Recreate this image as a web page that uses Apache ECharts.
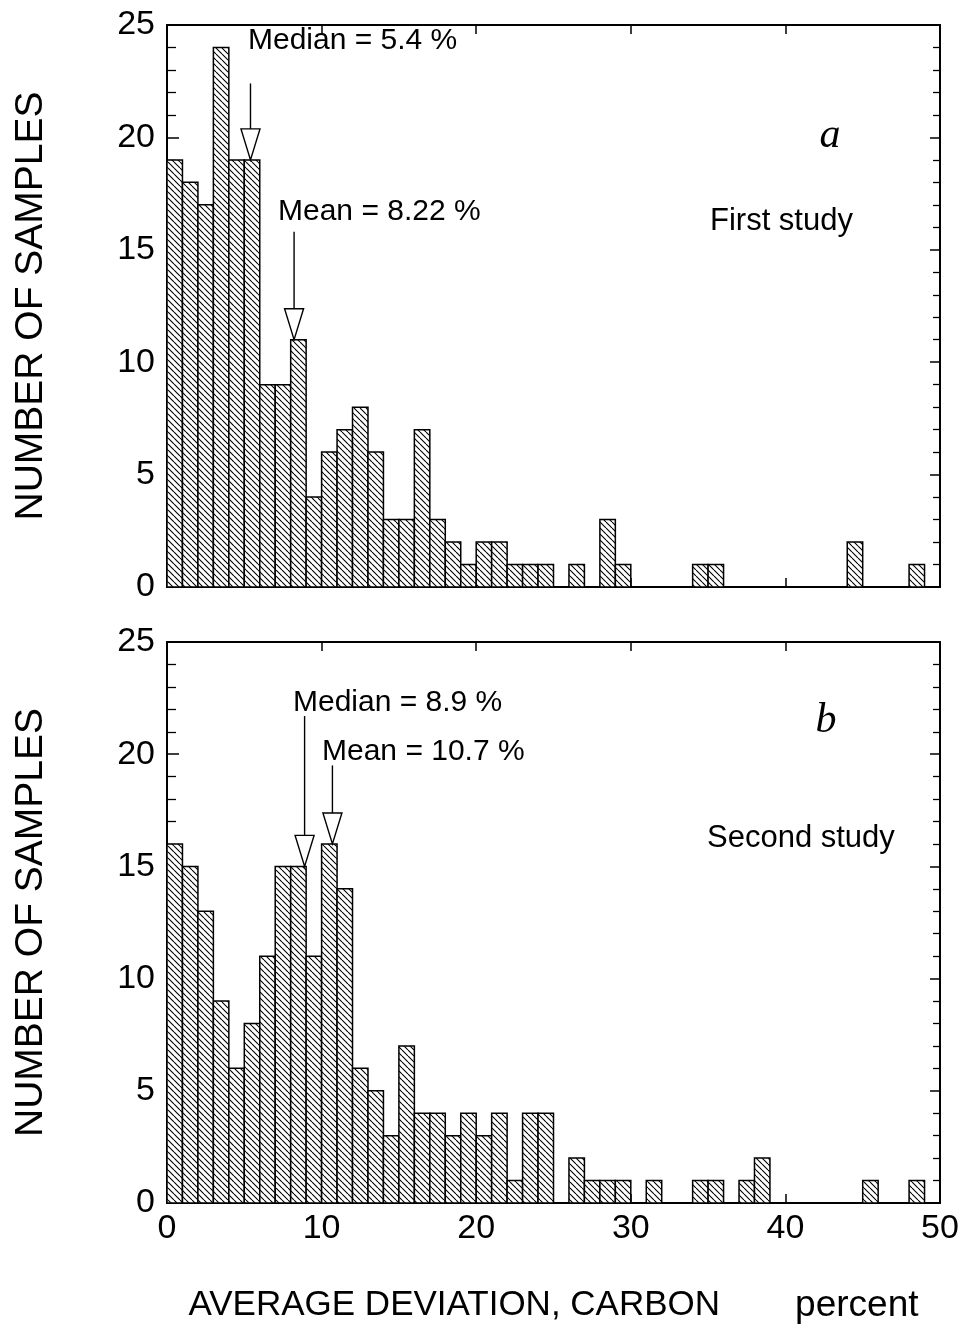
<!DOCTYPE html>
<html>
<head>
<meta charset="utf-8">
<script src="https://cdn.jsdelivr.net/npm/echarts@6/dist/echarts.min.js"></script>
<style>
  html, body { margin: 0; padding: 0; background: #fff; }
  #chart { width: 967px; height: 1329px; }
</style>
</head>
<body>
<div id="chart"></div>
<script>
// histogram counts, one per 1 % bin from 0 to 50
var binWidth = 1;
var countsA = [19, 18, 17, 24, 19, 19, 9, 9, 11, 4,
               6, 7, 8, 6, 3, 3, 7, 3, 2, 1,
               2, 2, 1, 1, 1, 0, 1, 0, 3, 1,
               0, 0, 0, 0, 1, 1, 0, 0, 0, 0,
               0, 0, 0, 0, 2, 0, 0, 0, 1, 0];
var countsB = [16, 15, 13, 9, 6, 8, 11, 15, 15, 11,
               16, 14, 6, 5, 3, 7, 4, 4, 3, 4,
               3, 4, 1, 4, 4, 0, 2, 1, 1, 1,
               0, 1, 0, 0, 1, 1, 0, 1, 2, 0,
               0, 0, 0, 0, 0, 1, 0, 0, 1, 0];
// arrows: [x, value at tip, value at top of shaft]
var arrowsA = [[5.4, 19, 22.4], [8.22, 11, 15.8]];
var arrowsB = [[8.9, 15, 21.7], [10.7, 16, 19.5]];
var notesA = ['Median = 5.4 %', 'Mean = 8.22 %'];
var notesB = ['Median = 8.9 %', 'Mean = 10.7 %'];
var studyNames = ['First study', 'Second study'];
var panelLetters = ['a', 'b'];

var FONT = '"Liberation Sans", Arial, sans-serif';
var chart = echarts.init(document.getElementById('chart'));

function hatchCanvas() {
  var n = 6;
  var c = document.createElement('canvas');
  c.width = n; c.height = n;
  var g = c.getContext('2d');
  g.fillStyle = '#fff';
  g.fillRect(0, 0, n, n);
  g.strokeStyle = '#000';
  g.lineWidth = 1.1;
  g.beginPath();
  for (var k = -1; k <= 1; k++) {
    g.moveTo(k * n, 0);
    g.lineTo(k * n + n, n);
  }
  g.stroke();
  return c;
}
var hatch = { image: hatchCanvas(), repeat: 'repeat' };

function toData(counts) {
  return counts.map(function (v, i) { return [i * binWidth, v]; });
}

function histItem(params, api) {
  var v = api.value(1);
  if (!v) return;
  var s = api.value(0);
  var p0 = api.coord([s, v]);
  var p1 = api.coord([s + binWidth, 0]);
  return {
    type: 'rect',
    shape: { x: p0[0], y: p0[1], width: p1[0] - p0[0], height: p1[1] - p0[1] },
    style: { fill: hatch, stroke: '#000', lineWidth: 1.5 }
  };
}

function arrowItem(params, api) {
  var pt = api.coord([api.value(0), api.value(1)]);
  var ptop = api.coord([api.value(0), api.value(2)]);
  var h = 31, w = 9.5;
  return {
    type: 'group',
    children: [
      { type: 'line', shape: { x1: pt[0], y1: ptop[1], x2: pt[0], y2: pt[1] - h },
        style: { stroke: '#000', lineWidth: 1.4 } },
      { type: 'polygon', shape: { points: [[pt[0] - w, pt[1] - h], [pt[0] + w, pt[1] - h], [pt[0], pt[1]]] },
        style: { fill: '#fff', stroke: '#000', lineWidth: 1.4 } }
    ]
  };
}

var grids = [
  { left: 167, top: 25, width: 773, height: 562 },
  { left: 167, top: 642, width: 773, height: 561 }
];

var xAxes = [], yAxes = [];
grids.forEach(function (g, i) {
  ['bottom', 'top'].forEach(function (pos) {
    var showLab = (i === 1 && pos === 'bottom');
    xAxes.push({
      gridIndex: i, type: 'value', position: pos, min: 0, max: 50, interval: 10,
      axisLine: { show: true, onZero: false, lineStyle: { color: '#000', width: 2 } },
      axisTick: { show: true, inside: true, length: 9, lineStyle: { color: '#000', width: 1.5 } },
      axisLabel: { show: showLab, color: '#000', fontSize: 34, fontFamily: FONT, margin: 9 },
      splitLine: { show: false },
      name: showLab ? '{t|AVERAGE DEVIATION, CARBON}{p|percent}' : '',
      nameLocation: 'middle', nameGap: 84,
      nameTextStyle: {
        color: '#000', fontFamily: FONT,
        rich: {
          t: { fontSize: 35, fontFamily: FONT, color: '#000' },
          p: { fontSize: 37, fontFamily: FONT, color: '#000', padding: [0, 0, 0, 75] }
        }
      }
    });
  });
  ['left', 'right'].forEach(function (pos) {
    var left = pos === 'left';
    yAxes.push({
      gridIndex: i, type: 'value', position: pos, min: 0, max: 25, interval: 5,
      axisLine: { show: true, onZero: false, lineStyle: { color: '#000', width: 2 } },
      axisTick: { show: true, inside: true, length: left ? 12 : 10, lineStyle: { color: '#000', width: 1.5 } },
      minorTick: { show: true, splitNumber: 5, length: left ? 9 : 7, lineStyle: { color: '#000', width: 1.3 } },
      axisLabel: { show: left, color: '#000', fontSize: 34, fontFamily: FONT, margin: 12 },
      splitLine: { show: false },
      name: left ? 'NUMBER OF SAMPLES' : '',
      nameLocation: 'middle', nameRotate: 90, nameGap: 116,
      nameTextStyle: { color: '#000', fontSize: 39, fontFamily: FONT }
    });
  });
});

var series = [
  { type: 'custom', xAxisIndex: 0, yAxisIndex: 0, renderItem: histItem, data: toData(countsA), encode: { x: 0, y: 1 }, silent: true },
  { type: 'custom', xAxisIndex: 2, yAxisIndex: 2, renderItem: histItem, data: toData(countsB), encode: { x: 0, y: 1 }, silent: true },
  { type: 'custom', xAxisIndex: 0, yAxisIndex: 0, renderItem: arrowItem, data: arrowsA, encode: { x: 0, y: [1, 2] }, silent: true, z: 5 },
  { type: 'custom', xAxisIndex: 2, yAxisIndex: 2, renderItem: arrowItem, data: arrowsB, encode: { x: 0, y: [1, 2] }, silent: true, z: 5 }
];

function note(text, x, y, size) {
  return { type: 'text', x: x, y: y, z: 10,
    style: { text: text, fill: '#000', font: (size || 30) + 'px ' + FONT, textAlign: 'left', textVerticalAlign: 'middle' } };
}
function letter(text, x, y) {
  return { type: 'text', x: x, y: y, z: 10,
    style: { text: text, fill: '#000', font: 'italic 42px "Liberation Serif", serif', textAlign: 'center', textVerticalAlign: 'middle' } };
}

chart.setOption({
  backgroundColor: '#fff',
  animation: false,
  grid: grids,
  xAxis: xAxes,
  yAxis: yAxes,
  series: series,
  graphic: [
    note(notesA[0], 248, 41),
    note(notesA[1], 278, 212),
    note(studyNames[0], 710, 221, 31),
    letter(panelLetters[0], 830, 136),
    note(notesB[0], 293, 703),
    note(notesB[1], 322, 752),
    note(studyNames[1], 707, 838, 31),
    letter(panelLetters[1], 826, 721)
  ]
});
</script>
</body>
</html>
